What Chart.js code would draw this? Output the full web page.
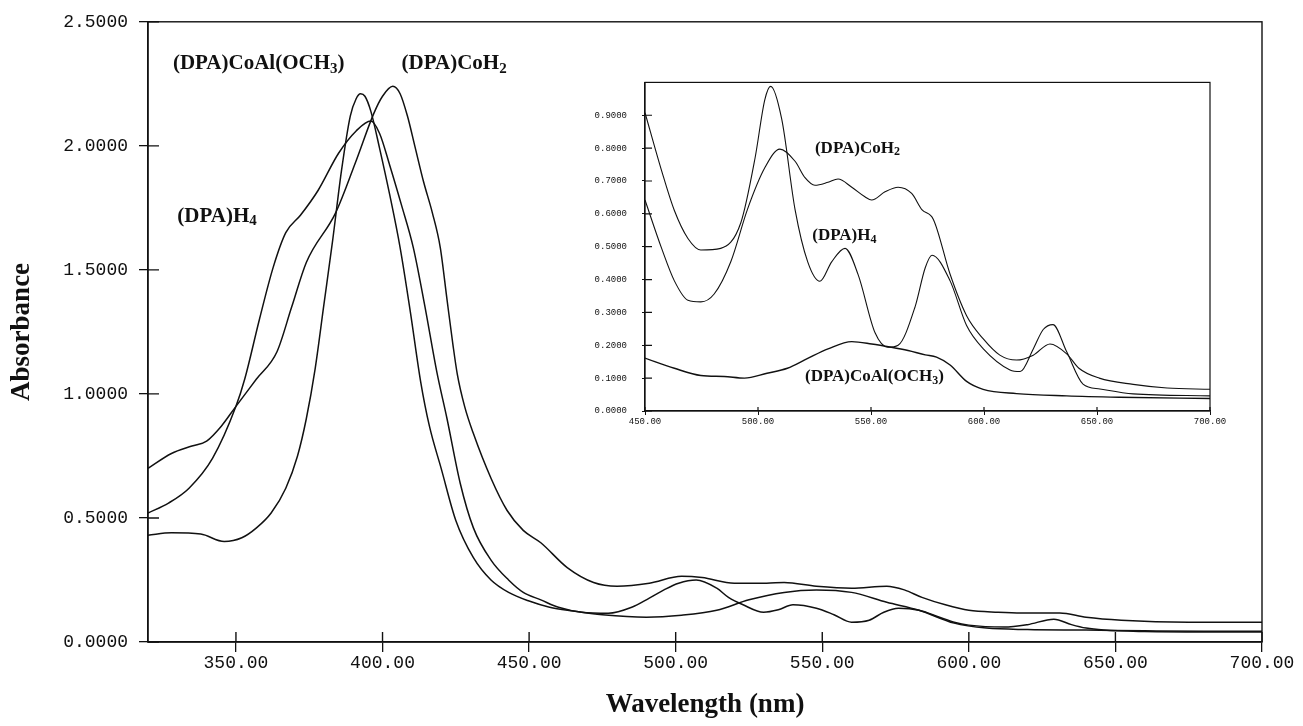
<!DOCTYPE html>
<html>
<head>
<meta charset="utf-8">
<title>Absorption spectra</title>
<script src="https://cdn.jsdelivr.net/npm/chart.js@4.4.0/dist/chart.umd.min.js"></script>
<style>
  body { margin: 0; background: #fff; }
  #wrap { position: relative; width: 1303px; height: 726px; }
  #mainChart { position: absolute; left: 0; top: 0; }
  #insetChart { position: absolute; left: 585px; top: 62px; }
</style>
</head>
<body>
<div id="wrap">
  <canvas id="mainChart" width="1303" height="726"></canvas>
  <canvas id="insetChart" width="650" height="375"></canvas>
</div>
<script>
// ---- main spectra (wavelength nm / absorbance) ----
const coAlWl = [320, 328, 338, 346, 352, 357, 362, 367, 371, 374, 377, 380, 383, 386, 389, 391, 392.5, 394, 396, 399, 402.5, 406, 409.5, 413, 416, 420, 425, 431, 437, 443, 450, 457, 465, 475, 490, 502, 514, 525, 537, 548, 560, 572, 583, 595, 606, 620, 640, 660, 680, 700];
const coAlAbs = [0.43, 0.44, 0.435, 0.405, 0.42, 0.46, 0.52, 0.62, 0.75, 0.90, 1.10, 1.36, 1.62, 1.90, 2.12, 2.19, 2.21, 2.20, 2.14, 1.99, 1.80, 1.59, 1.33, 1.05, 0.87, 0.70, 0.49, 0.34, 0.25, 0.20, 0.165, 0.14, 0.125, 0.11, 0.10, 0.108, 0.128, 0.17, 0.20, 0.21, 0.20, 0.16, 0.128, 0.076, 0.056, 0.05, 0.048, 0.045, 0.043, 0.043];

const coH2Wl = [320, 328, 335, 340, 345, 350, 357, 364, 369, 374, 384, 391, 397, 400, 403.5, 406, 408.5, 411, 414, 417, 419.7, 422, 424, 425.5, 428, 431, 437, 442.5, 448, 454, 463, 472, 480, 491, 502, 509, 520, 531, 537, 548, 560, 572, 578, 584, 592, 600, 610, 618, 631, 640, 652, 675, 700];
const coH2Abs = [0.70, 0.76, 0.79, 0.81, 0.87, 0.95, 1.06, 1.17, 1.35, 1.53, 1.73, 1.94, 2.13, 2.20, 2.24, 2.21, 2.12, 2.00, 1.855, 1.73, 1.59, 1.38, 1.20, 1.08, 0.95, 0.84, 0.66, 0.53, 0.45, 0.40, 0.30, 0.24, 0.225, 0.237, 0.265, 0.26, 0.237, 0.237, 0.24, 0.225, 0.217, 0.225, 0.21, 0.18, 0.15, 0.128, 0.12, 0.117, 0.117, 0.10, 0.088, 0.08, 0.08];

const h4Wl = [320, 327, 334, 342, 350, 353, 358, 362.7, 367, 372, 378, 385, 391, 396, 399, 402.5, 406.5, 410.5, 414.5, 418.5, 422, 426.5, 431, 437, 443, 448, 454, 460, 468, 477, 485, 491, 496, 501, 507, 514, 518, 523, 530, 535, 540, 548, 554, 560, 566, 571, 576, 583, 590, 595, 600, 612, 620, 629, 635, 640, 646, 660, 680, 700];
const h4Abs = [0.52, 0.56, 0.62, 0.74, 0.95, 1.06, 1.30, 1.51, 1.65, 1.72, 1.82, 1.97, 2.06, 2.10, 2.05, 1.92, 1.76, 1.59, 1.35, 1.09, 0.90, 0.64, 0.46, 0.33, 0.25, 0.20, 0.17, 0.14, 0.12, 0.116, 0.14, 0.177, 0.21, 0.237, 0.25, 0.217, 0.18, 0.15, 0.12, 0.13, 0.15, 0.136, 0.11, 0.08, 0.088, 0.12, 0.136, 0.128, 0.10, 0.08, 0.068, 0.06, 0.07, 0.092, 0.07, 0.056, 0.048, 0.042, 0.04, 0.04];

const mainXTicks = [350, 400, 450, 500, 550, 600, 650, 700];
const mainYTicks = [0, 0.5, 1.0, 1.5, 2.0, 2.5];

const mainLabelText = ["(DPA)CoAl(OCH_3)", "(DPA)CoH_2", "(DPA)H_4"];
const mainLabelWl = [328.5, 406.5, 330];
const mainLabelAbs = [2.33, 2.33, 1.715];

// ---- inset spectra ----
const inH4Wl = [450, 457.4, 463, 469, 474.7, 483.5, 492.4, 498.7, 503, 505.6, 510.5, 516.4, 522, 527.4, 532.6, 538.5, 544.3, 551.8, 557.5, 562, 569.5, 574, 577, 585, 592.3, 599.6, 611.5, 616, 621.8, 626.2, 630.5, 636.6, 643.8, 651.3, 666, 700];
const inH4Abs = [0.908, 0.73, 0.61, 0.525, 0.49, 0.495, 0.573, 0.77, 0.947, 0.988, 0.888, 0.613, 0.454, 0.395, 0.454, 0.495, 0.415, 0.238, 0.194, 0.2, 0.317, 0.436, 0.474, 0.396, 0.26, 0.19, 0.125, 0.12, 0.189, 0.248, 0.263, 0.18, 0.082, 0.067, 0.052, 0.046];

const inCoH2Wl = [450, 457.4, 463, 469, 474.7, 480.6, 488, 495.3, 503, 509.7, 516.4, 520.8, 525.2, 531, 535.4, 541.5, 547.3, 550.3, 556.2, 562, 568, 572.5, 577.6, 585, 592.3, 599.6, 607, 614.4, 621.8, 629.2, 636.6, 642, 651, 666, 681, 700];
const inCoH2Abs = [0.642, 0.494, 0.396, 0.337, 0.332, 0.356, 0.455, 0.613, 0.74, 0.797, 0.76, 0.71, 0.687, 0.696, 0.706, 0.681, 0.652, 0.642, 0.667, 0.681, 0.662, 0.613, 0.583, 0.416, 0.29, 0.22, 0.17, 0.155, 0.17, 0.204, 0.174, 0.13, 0.10, 0.081, 0.07, 0.066];

const inCoAlWl = [450, 463, 474.7, 485, 494, 504, 513, 522, 531, 541.5, 550.3, 559, 566.4, 574, 579, 585, 592.3, 599.6, 614.4, 636.6, 660, 700];
const inCoAlAbs = [0.161, 0.13, 0.108, 0.105, 0.10, 0.115, 0.13, 0.16, 0.189, 0.211, 0.204, 0.194, 0.184, 0.171, 0.164, 0.14, 0.09, 0.066, 0.053, 0.046, 0.042, 0.038];

const insetXTicks = [450, 500, 550, 600, 650, 700];
const insetYTicks = [0, 0.1, 0.2, 0.3, 0.4, 0.5, 0.6, 0.7, 0.8, 0.9];

const insetLabelText = ["(DPA)CoH_2", "(DPA)H_4", "(DPA)CoAl(OCH_3)"];
const insetLabelWl = [525.2, 524, 520.8];
const insetLabelAbs = [0.80, 0.534, 0.105];

const INK = "#111";
Chart.defaults.color = INK;

function toPoints(xs, ys) {
  return xs.map((x, i) => ({ x: x, y: ys[i] }));
}

function spectrum(label, xs, ys, width) {
  return {
    label: label,
    data: toPoints(xs, ys),
    showLine: true,
    borderColor: INK,
    borderWidth: width,
    pointRadius: 0,
    cubicInterpolationMode: "monotone",
    fill: false,
  };
}

// draws text where "_3" means subscript 3
function drawChem(ctx, text, x, y, size) {
  const parts = text.split(/(_\d)/).filter((p) => p.length);
  let cx = x;
  parts.forEach((p) => {
    const sub = p[0] === "_";
    const t = sub ? p.slice(1) : p;
    ctx.font = "bold " + (sub ? Math.round(size * 0.72) : size) + 'px "Liberation Serif"';
    ctx.fillText(t, cx, sub ? y + size * 0.24 : y);
    cx += ctx.measureText(t).width;
  });
}

// frame box, inward tick stubs and compound labels
const framePlugin = {
  id: "frame",
  afterDatasetsDraw(chart, args, opts) {
    const ctx = chart.ctx;
    const a = chart.chartArea;
    const xs = chart.scales.x;
    const ys = chart.scales.y;
    ctx.save();
    ctx.strokeStyle = INK;
    ctx.lineWidth = opts.lineWidth;
    ctx.strokeRect(a.left, a.top, a.right - a.left, a.bottom - a.top);
    ctx.beginPath();
    xs.ticks.forEach((t) => {
      const px = xs.getPixelForValue(t.value);
      ctx.moveTo(px, a.bottom);
      ctx.lineTo(px, a.bottom - opts.xIn);
    });
    ys.ticks.forEach((t) => {
      const py = ys.getPixelForValue(t.value);
      ctx.moveTo(a.left, py);
      ctx.lineTo(a.left + opts.yIn, py);
    });
    ctx.stroke();

    ctx.fillStyle = INK;
    ctx.textBaseline = "middle";
    ctx.textAlign = "left";
    opts.texts.forEach((txt, i) => {
      drawChem(ctx, txt, xs.getPixelForValue(opts.wl[i]), ys.getPixelForValue(opts.abs[i]), opts.size);
    });
    ctx.restore();
  },
};

// Main chart
new Chart(document.getElementById("mainChart"), {
  type: "scatter",
  data: {
    datasets: [
      spectrum("(DPA)CoAl(OCH3)", coAlWl, coAlAbs, 1.5),
      spectrum("(DPA)CoH2", coH2Wl, coH2Abs, 1.5),
      spectrum("(DPA)H4", h4Wl, h4Abs, 1.5),
    ],
  },
  options: {
    responsive: false,
    animation: false,
    devicePixelRatio: 1,
    layout: { padding: { top: 20, right: 41, left: 0, bottom: 0 } },
    plugins: {
      legend: { display: false },
      tooltip: { enabled: false },
      frame: {
        lineWidth: 1.4, xIn: 10, yIn: 11,
        texts: mainLabelText, wl: mainLabelWl, abs: mainLabelAbs, size: 21,
      },
    },
    scales: {
      x: {
        type: "linear",
        min: 320,
        max: 700,
        afterBuildTicks: (s) => { s.ticks = mainXTicks.map((v) => ({ value: v })); },
        afterFit: (s) => { s.height = 84; },
        grid: { drawOnChartArea: false, tickLength: 10, color: INK, lineWidth: 1.3 },
        border: { color: INK, width: 1.4 },
        ticks: {
          autoSkip: false, maxRotation: 0, padding: 0, color: INK,
          font: { family: '"Liberation Mono"', size: 18 },
          callback: (v) => Number(v).toFixed(2),
        },
        title: {
          display: true, text: "Wavelength (nm)", color: INK,
          font: { family: '"Liberation Serif"', size: 27, weight: "bold" },
          padding: { top: 0, bottom: 5 },
        },
      },
      y: {
        type: "linear",
        min: 0,
        max: 2.5,
        afterBuildTicks: (s) => { s.ticks = mainYTicks.map((v) => ({ value: v })); },
        afterFit: (s) => { s.width = 148; },
        grid: { drawOnChartArea: false, tickLength: 9, color: INK, lineWidth: 1.3 },
        border: { color: INK, width: 1.4 },
        ticks: {
          padding: 11, color: INK,
          font: { family: '"Liberation Mono"', size: 18 },
          callback: (v) => Number(v).toFixed(4),
        },
        title: {
          display: true, text: "Absorbance", color: INK,
          font: { family: '"Liberation Serif"', size: 27, weight: "bold" },
          padding: { top: 6, bottom: 0 },
        },
      },
    },
  },
  plugins: [framePlugin],
});

// Inset chart
new Chart(document.getElementById("insetChart"), {
  type: "scatter",
  data: {
    datasets: [
      spectrum("(DPA)H4", inH4Wl, inH4Abs, 1.1),
      spectrum("(DPA)CoH2", inCoH2Wl, inCoH2Abs, 1.1),
      spectrum("(DPA)CoAl(OCH3)", inCoAlWl, inCoAlAbs, 1.4),
    ],
  },
  options: {
    responsive: false,
    animation: false,
    devicePixelRatio: 1,
    layout: { padding: { top: 10, right: 25, left: 0, bottom: 0 } },
    plugins: {
      legend: { display: false },
      tooltip: { enabled: false },
      frame: {
        lineWidth: 1.2, xIn: 4, yIn: 7,
        texts: insetLabelText, wl: insetLabelWl, abs: insetLabelAbs, size: 17,
      },
    },
    scales: {
      x: {
        type: "linear",
        min: 450,
        max: 700,
        afterBuildTicks: (s) => { s.ticks = insetXTicks.map((v) => ({ value: v })); },
        afterFit: (s) => { s.height = 26; },
        grid: { drawOnChartArea: false, tickLength: 4, color: INK, lineWidth: 1 },
        border: { color: INK, width: 1.2 },
        ticks: {
          autoSkip: false, maxRotation: 0, padding: 1, color: INK,
          font: { family: '"Liberation Mono"', size: 9 },
          callback: (v) => Number(v).toFixed(2),
        },
      },
      y: {
        type: "linear",
        min: 0,
        max: 1.0,
        afterBuildTicks: (s) => { s.ticks = insetYTicks.map((v) => ({ value: v })); },
        afterFit: (s) => { s.width = 60; },
        grid: { drawOnChartArea: false, tickLength: 3, color: INK, lineWidth: 1 },
        border: { color: INK, width: 1.2 },
        ticks: {
          padding: 15, color: INK,
          font: { family: '"Liberation Mono"', size: 9 },
          callback: (v) => Number(v).toFixed(4),
        },
      },
    },
  },
  plugins: [framePlugin],
});
</script>
</body>
</html>
